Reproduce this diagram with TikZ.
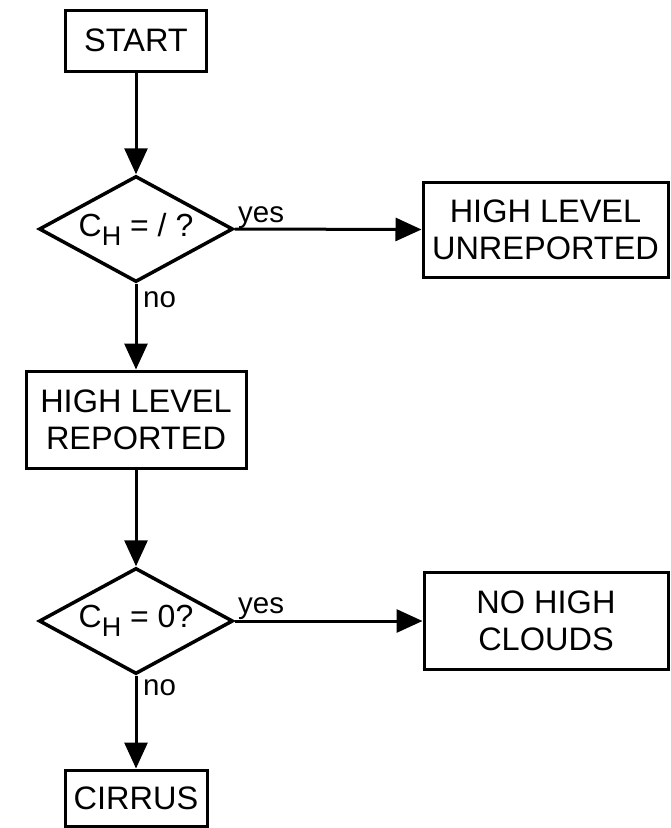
\documentclass[tikz,border=0pt]{standalone}
\usepackage{fontspec}
\setmainfont{Liberation Sans}
\usetikzlibrary{shapes.geometric,arrows.meta}
\tikzset{
  box/.style={draw, line width=3pt, rectangle, inner sep=0pt, align=center,
    font=\fontsize{32.5}{37}\selectfont},
  decision/.style={draw, line width=3.5pt, diamond, aspect=1.85, inner sep=0pt,
    minimum width=194pt, minimum height=106pt, font=\fontsize{32}{36}\selectfont},
  flow/.style={line width=3pt, -{Triangle[length=26pt,width=23pt]}},
  lbl/.style={inner sep=0pt, font=\fontsize{29.5}{34}\selectfont}
}
\newcommand{\chsub}{C\raisebox{-9pt}{\fontsize{27}{27}\selectfont H}}
\begin{document}
\begin{tikzpicture}[x=1pt,y=1pt]
\useasboundingbox (0,0) rectangle (670,-828);
\node[box, minimum width=141pt, minimum height=61pt] (start) at (136,-40.5) {START};
\node[decision] (d1) at (136,-229) {\chsub{} = / ?};
\node[box, minimum width=245pt, minimum height=95pt] (unrep) at (545.5,-229.5) {HIGH LEVEL\\UNREPORTED};
\node[box, minimum width=220pt, minimum height=97pt] (rep) at (136,-419.5) {HIGH LEVEL\\REPORTED};
\node[decision] (d2) at (136,-621) {\chsub{} = 0?};
\node[box, minimum width=244pt, minimum height=97pt] (nohigh) at (546,-621) {NO HIGH\\CLOUDS};
\node[box, minimum width=142pt, minimum height=56pt] (cirrus) at (136,-798) {CIRRUS};

\draw[flow] (start.south) -- (d1.north);
\draw[flow] (d1.east) -- (unrep.west);
\draw[flow] (d1.south) -- (rep.north);
\draw[flow] (rep.south) -- (d2.north);
\draw[flow] (d2.east) -- (nohigh.west);
\draw[flow] (d2.south) -- (cirrus.north);

\node[lbl, anchor=base west] (yes1) at (238,-222) {yes};
\node[lbl, anchor=base west] (no1) at (143,-307) {no};
\node[lbl, anchor=base west] (yes2) at (238,-613) {yes};
\node[lbl, anchor=base west] (no2) at (143,-695) {no};
\end{tikzpicture}
\end{document}
